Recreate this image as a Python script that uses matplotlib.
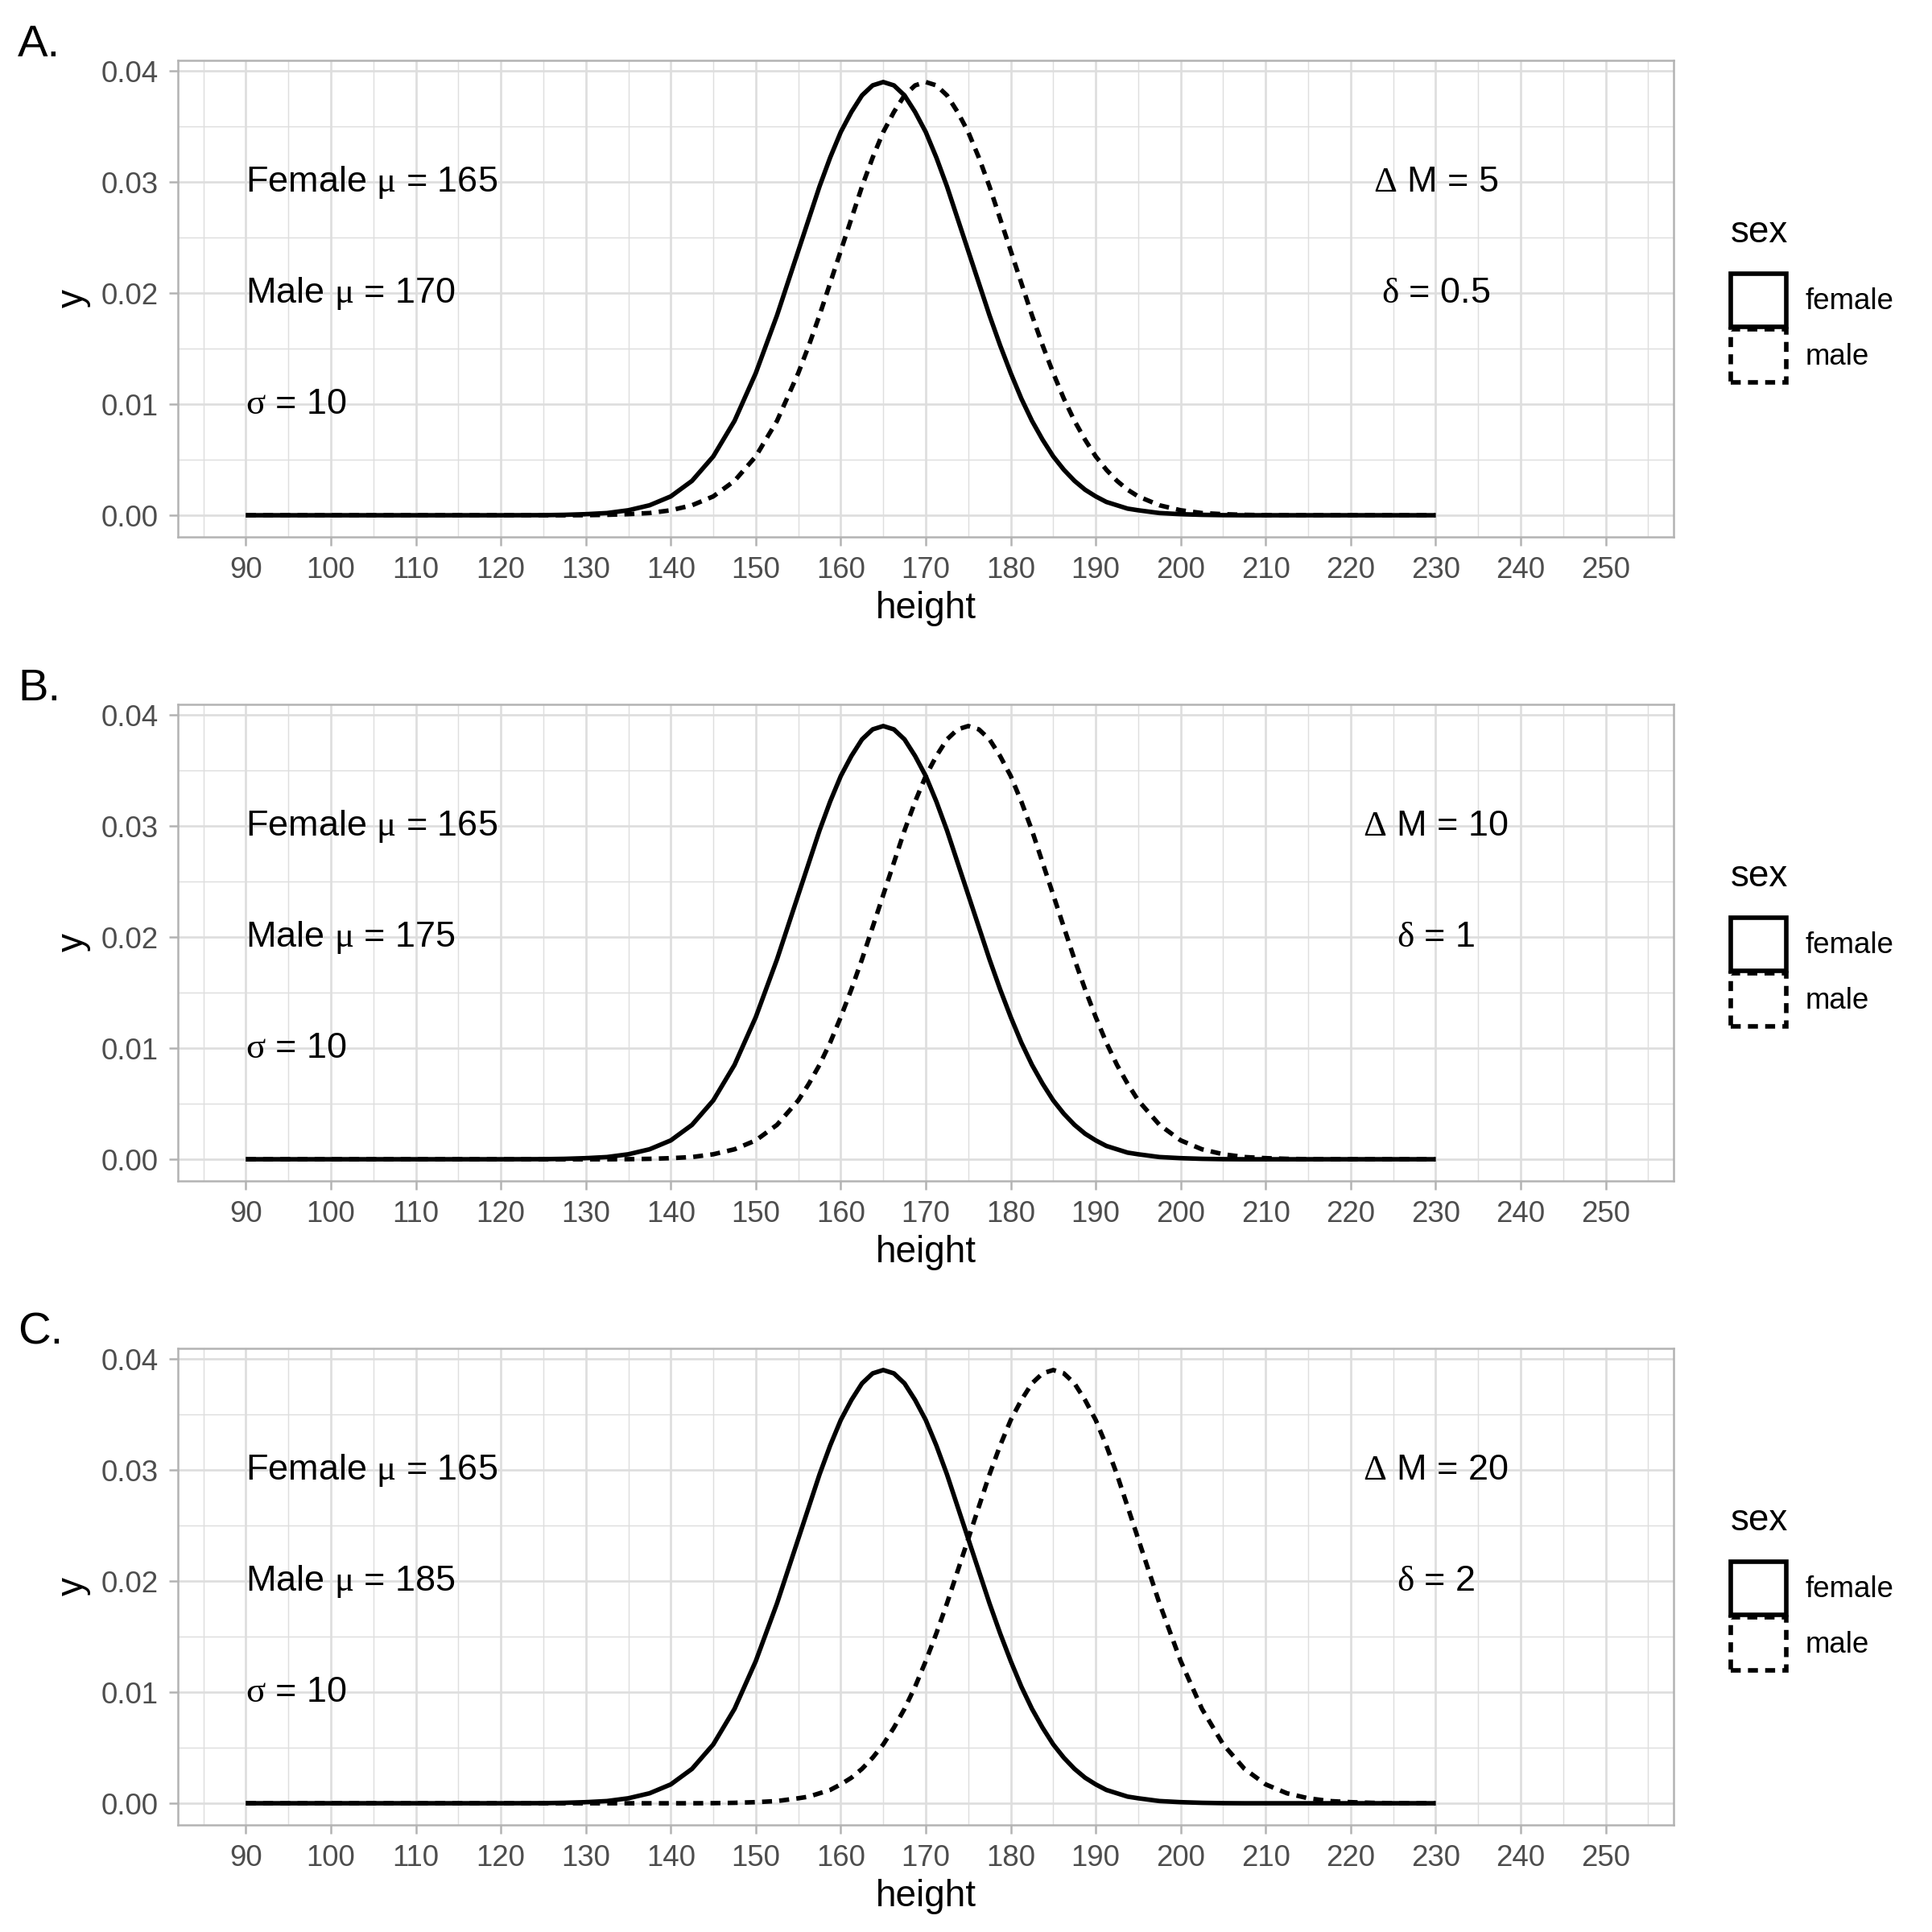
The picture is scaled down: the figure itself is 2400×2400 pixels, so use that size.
import matplotlib
matplotlib.use("Agg")
import matplotlib.pyplot as plt
from matplotlib.patches import Patch
from matplotlib.ticker import MultipleLocator

plt.rcParams['font.family'] = ['Liberation Sans', 'DejaVu Sans']
plt.rcParams['mathtext.fontset'] = 'custom'
plt.rcParams['mathtext.rm'] = 'Liberation Serif'
plt.rcParams['mathtext.it'] = 'Liberation Serif:italic'

# ---------------- data ----------------
height = [90, 100, 110, 120,
          125, 127.5, 130, 132.5, 135, 137.5, 140, 142.5, 145, 147.5, 150, 152.5,
          155, 156.25, 157.5, 158.75, 160, 161.25, 162.5, 163.75, 165, 166.25, 167.5,
          168.75, 170, 171.25, 172.5, 173.75, 175, 176.25, 177.5, 178.75, 180, 181.25,
          182.5, 183.75, 185, 186.25, 187.5, 188.75, 190, 191.25, 192.5, 193.75, 195,
          197.5, 200, 202.5, 205, 207.5, 210, 212.5, 215, 217.5, 220, 222.5, 225, 227.5, 230]

female_y = [0, 0, 0, 0,
            0.00001, 0.00004, 0.0001, 0.0002, 0.00045, 0.0009, 0.0017, 0.0031, 0.0053,
            0.0085, 0.0128, 0.0180,
            0.0238, 0.0267, 0.0296, 0.0322, 0.0345, 0.0363, 0.0378, 0.0387, 0.0390, 0.0387,
            0.0378, 0.0363, 0.0345, 0.0322, 0.0296, 0.0267, 0.0238, 0.0209, 0.0180, 0.0153,
            0.0128, 0.0105, 0.0085, 0.0068, 0.0053, 0.0041, 0.0031, 0.0023, 0.0017, 0.0012,
            0.0009, 0.0006, 0.00045,
            0.0002, 0.0001, 0.00004, 0.00001, 0, 0, 0, 0, 0, 0, 0, 0, 0, 0]

male_y_A = [0, 0, 0, 0,
            0, 0, 0.00001, 0.00004, 0.0001, 0.0002, 0.00045, 0.0009, 0.0017, 0.0031,
            0.0053, 0.0085,
            0.0128, 0.0153, 0.0180, 0.0209, 0.0238, 0.0267, 0.0296, 0.0322, 0.0345, 0.0363,
            0.0378, 0.0387, 0.0390, 0.0387, 0.0378, 0.0363, 0.0345, 0.0322, 0.0296, 0.0267,
            0.0238, 0.0209, 0.0180, 0.0153, 0.0128, 0.0105, 0.0085, 0.0068, 0.0053, 0.0041,
            0.0031, 0.0023, 0.0017,
            0.0009, 0.00045, 0.0002, 0.0001, 0.00004, 0.00001, 0, 0, 0, 0, 0, 0, 0, 0]

male_y_B = [0, 0, 0, 0,
            0, 0, 0, 0, 0.00001, 0.00004, 0.0001, 0.0002, 0.00045, 0.0009, 0.0017, 0.0031,
            0.0053, 0.0068, 0.0085, 0.0105, 0.0128, 0.0153, 0.0180, 0.0209, 0.0238, 0.0267,
            0.0296, 0.0322, 0.0345, 0.0363, 0.0378, 0.0387, 0.0390, 0.0387, 0.0378, 0.0363,
            0.0345, 0.0322, 0.0296, 0.0267, 0.0238, 0.0209, 0.0180, 0.0153, 0.0128, 0.0105,
            0.0085, 0.0068, 0.0053,
            0.0031, 0.0017, 0.0009, 0.00045, 0.0002, 0.0001, 0.00004, 0.00001, 0, 0, 0, 0, 0, 0]

male_y_C = [0, 0, 0, 0,
            0, 0, 0, 0, 0, 0, 0, 0, 0.00001, 0.00004, 0.0001, 0.0002,
            0.00045, 0.0006, 0.0009, 0.0012, 0.0017, 0.0023, 0.0031, 0.0041, 0.0053, 0.0068,
            0.0085, 0.0105, 0.0128, 0.0153, 0.0180, 0.0209, 0.0238, 0.0267, 0.0296, 0.0322,
            0.0345, 0.0363, 0.0378, 0.0387, 0.0390, 0.0387, 0.0378, 0.0363, 0.0345, 0.0322,
            0.0296, 0.0267, 0.0238,
            0.0180, 0.0128, 0.0085, 0.0053, 0.0031, 0.0017, 0.0009, 0.00045, 0.0002, 0.0001,
            0.00004, 0.00001, 0, 0]

panel_labels = ['A.', 'B.', 'C.']
female_mu = 165
male_mu = [170, 175, 185]
sigma = 10
delta_M = [5, 10, 20]
delta = ['0.5', '1', '2']
legend_title = 'sex'
legend_labels = ['female', 'male']
x_ticks = list(range(90, 251, 10))
y_ticks = [0.00, 0.01, 0.02, 0.03, 0.04]
y_tick_labels = ['0.00', '0.01', '0.02', '0.03', '0.04']

male_series = [male_y_A, male_y_B, male_y_C]

# ---------------- styling ----------------
W = H = 2400
fig = plt.figure(figsize=(8, 8), dpi=300)

ax_left, ax_right = 221, 2079
tops = [75, 875, 1675]
ax_h = 592
grid_col = '#DEDEDE'
border_col = '#B3B3B3'
lw_curve = 1.35
dash = (0, (2.2, 1.6))

for i in range(3):
    top = tops[i]
    ax = fig.add_axes([ax_left / W, 1 - (top + ax_h) / H, (ax_right - ax_left) / W, ax_h / H])
    ax.plot(height, female_y, color='black', lw=lw_curve, solid_capstyle='butt',
            solid_joinstyle='round', zorder=3)
    ax.plot(height, male_series[i], color='black', lw=lw_curve, linestyle=dash,
            dash_capstyle='butt', zorder=3)
    ax.set_xlim(82, 258)
    ax.set_ylim(-0.00195, 0.04095)
    ax.set_xticks(x_ticks)
    ax.set_xticklabels([str(t) for t in x_ticks])
    ax.set_yticks(y_ticks)
    ax.set_yticklabels(y_tick_labels)
    ax.xaxis.set_minor_locator(MultipleLocator(5))
    ax.yaxis.set_minor_locator(MultipleLocator(0.005))
    ax.grid(which='major', color=grid_col, lw=0.65, zorder=0)
    ax.grid(which='minor', color=grid_col, lw=0.35, zorder=0)
    ax.set_axisbelow(True)
    for s in ax.spines.values():
        s.set_color(border_col)
        s.set_linewidth(0.6)
    ax.tick_params(which='major', length=2.75, width=0.6, color=border_col,
                   labelsize=8.8, labelcolor='#4D4D4D', pad=3)
    ax.tick_params(which='minor', length=0)
    ax.set_xlabel('height', fontsize=11, labelpad=2)
    ax.set_ylabel('y', fontsize=11, labelpad=3)

    # annotations
    ax.text(90, 0.03, f'Female $\\mathrm{{\\mu}}$ = {female_mu}', fontsize=10.8,
            ha='left', va='center')
    ax.text(90, 0.02, f'Male $\\mathrm{{\\mu}}$ = {male_mu[i]}', fontsize=10.8,
            ha='left', va='center')
    ax.text(90, 0.01, f'$\\mathrm{{\\sigma}}$ = {sigma}', fontsize=10.8,
            ha='left', va='center')
    ax.text(230, 0.03, f'$\\mathrm{{\\Delta}}$ M = {delta_M[i]}', fontsize=10.8,
            ha='center', va='center')
    ax.text(230, 0.02, f'$\\mathrm{{\\delta}}$ = {delta[i]}', fontsize=10.8,
            ha='center', va='center')

    handles = [Patch(facecolor='none', edgecolor='black', lw=lw_curve, linestyle='-'),
               Patch(facecolor='none', edgecolor='black', lw=lw_curve, linestyle=dash)]
    leg = ax.legend(handles, legend_labels, title=legend_title, loc='center left',
                    bbox_to_anchor=(1.038, 0.5), frameon=False, fontsize=8.8,
                    title_fontsize=11, handlelength=1.88, handleheight=2.37,
                    handletextpad=0.66, labelspacing=0.1, borderpad=0, borderaxespad=0,
                    alignment='left')
    leg._legend_box.sep = 7

    fig.text(22 / W, 1 - (top - 45) / H, panel_labels[i], fontsize=13.5,
             ha='left', va='top')

fig.savefig('out.png', dpi=300)
